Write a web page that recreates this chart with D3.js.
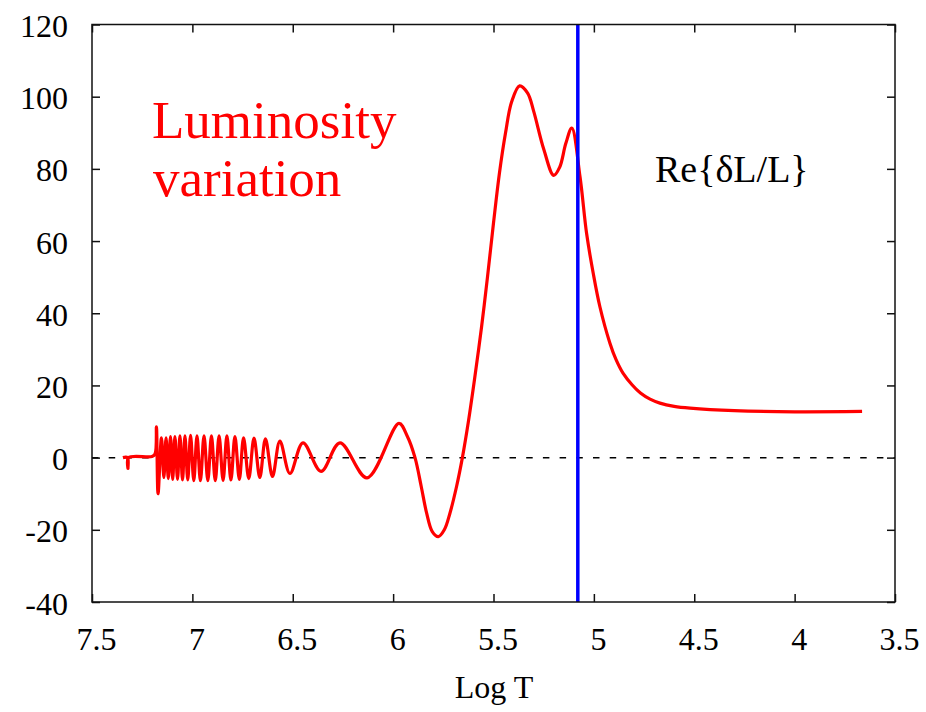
<!DOCTYPE html>
<html lang="en">
<head>
  <meta charset="UTF-8">
  <title>Luminosity variation</title>
  <script src="https://d3js.org/d3.v7.min.js"></script>
  <style>
    body { margin: 0; background: #fff; }
    svg { display: block; font-family: "Liberation Serif", "Times New Roman", serif; }
    .axis path { display: none; }
    .axis line { stroke: #111; stroke-width: 1.5px; }
  </style>
</head>
<body>
  <div id="chart"></div>
  <script>
    // log T (x) and Re{dL/L} (y)
    const logT = [
      7.346, 7.323, 7.321, 7.318, 7.201, 7.186, 7.179, 7.171,
      7.154, 7.142, 7.131, 7.120, 7.109, 7.098, 7.087, 7.074, 7.062, 7.049,
      7.037, 7.023, 7.009, 6.993, 6.977, 6.960, 6.942, 6.923, 6.905, 6.886,
      6.867, 6.847, 6.828, 6.808, 6.788, 6.766, 6.745, 6.719, 6.693, 6.664,
      6.636, 6.601, 6.564, 6.514, 6.449, 6.359, 6.265, 6.130, 5.971, 5.930,
      5.891, 5.860, 5.833, 5.805, 5.775, 5.745, 5.717, 5.684, 5.655, 5.625,
      5.595, 5.560, 5.530, 5.500, 5.470, 5.440, 5.410, 5.370, 5.330, 5.300,
      5.250, 5.200, 5.170, 5.140, 5.110, 5.069, 5.036, 5.003, 4.970, 4.920,
      4.890, 4.855, 4.810, 4.768, 4.720, 4.671, 4.600, 4.521, 4.300, 4.000,
      3.664
    ];
    const deltaL = [
      0, 0, -3, 0, 0.3, 1, 8.5, -10,
      5.5, -5.5, 5.5, -5.8, 5.8, -6, 5.8, -6, 6, -6.2,
      6, -6.2, 6.2, -6.4, 6, -6.4, 6, -6.4, 6, -6.4,
      6, -6.3, 6, -6.2, 5.8, -6, 5.5, -5.8, 5.4, -5.5,
      5.2, -5.2, 4.6, -4.4, 4.1, -3.8, 4.1, -5.6, 9.5, 6,
      0, -8, -15.4, -20.5, -21.9, -20, -15.4, -8, 0, 10,
      21.5, 36, 50, 65, 79, 90, 98.5, 103, 101, 96,
      85.5, 78.2, 80.5, 87, 91.3, 77.8, 62, 51, 41.8, 31.7,
      27.2, 23.4, 20.2, 17.9, 16.2, 15.1, 14.2, 13.7, 13.0, 12.7,
      12.8
    ];
    const xTicks = [7.5, 7, 6.5, 6, 5.5, 5, 4.5, 4, 3.5];
    const yTicks = [-40, -20, 0, 20, 40, 60, 80, 100, 120];
    const markerLogT = 5.08;

    const W = 926, H = 712;
    const plot = { left: 92, right: 895, top: 24.5, bottom: 602 };
    const serif = "'Liberation Serif', 'Times New Roman', serif";

    const svg = d3.select("#chart").append("svg")
      .attr("width", W).attr("height", H);

    const x = d3.scaleLinear().domain([7.5, 3.5]).range([plot.left, plot.right]);
    const y = d3.scaleLinear().domain([-40, 120]).range([plot.bottom, plot.top]);

    // zero line, dashed
    svg.append("line")
      .attr("x1", x(7.5)).attr("x2", x(3.5))
      .attr("y1", y(0)).attr("y2", y(0))
      .attr("stroke", "#000").attr("stroke-width", 1.5)
      .attr("stroke-dasharray", "6.5 10.2");

    // the curve
    const data = logT.map((t, i) => ({ t, v: deltaL[i] }));
    const line = d3.line()
      .x(d => x(d.t))
      .y(d => y(d.v))
      .curve(d3.curveCatmullRom.alpha(0.5));

    svg.append("path")
      .datum(data.slice().reverse())
      .attr("d", line)
      .attr("fill", "none")
      .attr("stroke", "#ff0000")
      .attr("stroke-width", 3.2)
      .attr("stroke-linejoin", "round");

    // blue marker
    svg.append("line")
      .attr("x1", x(markerLogT)).attr("x2", x(markerLogT))
      .attr("y1", y(120)).attr("y2", y(-40))
      .attr("stroke", "#0000ff").attr("stroke-width", 3.5);

    const fmt = d => String(d);

    // axes with inward ticks on all four sides
    const gx = svg.append("g").attr("class", "axis")
      .attr("transform", `translate(0,${plot.bottom})`)
      .call(d3.axisBottom(x).tickValues(xTicks).tickFormat(fmt).tickSizeInner(-8).tickSizeOuter(0));
    gx.attr("font-family", serif).attr("font-size", 32);
    gx.selectAll("text").attr("y", 48).attr("dy", null).attr("dx", 4).attr("fill", "#000");

    svg.append("g").attr("class", "axis")
      .attr("transform", `translate(0,${plot.top})`)
      .call(d3.axisTop(x).tickValues(xTicks).tickFormat("").tickSizeInner(-8).tickSizeOuter(0));

    const gy = svg.append("g").attr("class", "axis")
      .attr("transform", `translate(${plot.left},0)`)
      .call(d3.axisLeft(y).tickValues(yTicks).tickFormat(fmt).tickSizeInner(-8).tickSizeOuter(0));
    gy.attr("font-family", serif).attr("font-size", 32);
    gy.selectAll("text").attr("x", -24).attr("dy", 12).attr("fill", "#000");

    svg.append("g").attr("class", "axis")
      .attr("transform", `translate(${plot.right},0)`)
      .call(d3.axisRight(y).tickValues(yTicks).tickFormat("").tickSizeInner(-8).tickSizeOuter(0));

    svg.append("rect")
      .attr("x", plot.left).attr("y", plot.top)
      .attr("width", plot.right - plot.left).attr("height", plot.bottom - plot.top)
      .attr("fill", "none").attr("stroke", "#111").attr("stroke-width", 1.5);

    // labels
    svg.append("text")
      .attr("x", 494).attr("y", 698)
      .attr("text-anchor", "middle")
      .attr("font-size", 32)
      .text("Log T");

    svg.append("text")
      .attr("x", 152).attr("y", 138)
      .attr("font-size", 53).attr("fill", "#ff0000")
      .text("Luminosity");
    svg.append("text")
      .attr("x", 153).attr("y", 196)
      .attr("font-size", 53).attr("fill", "#ff0000")
      .text("variation");

    svg.append("text")
      .attr("x", 655).attr("y", 182)
      .attr("font-size", 38)
      .text("Re{δL/L}");
  </script>
</body>
</html>
